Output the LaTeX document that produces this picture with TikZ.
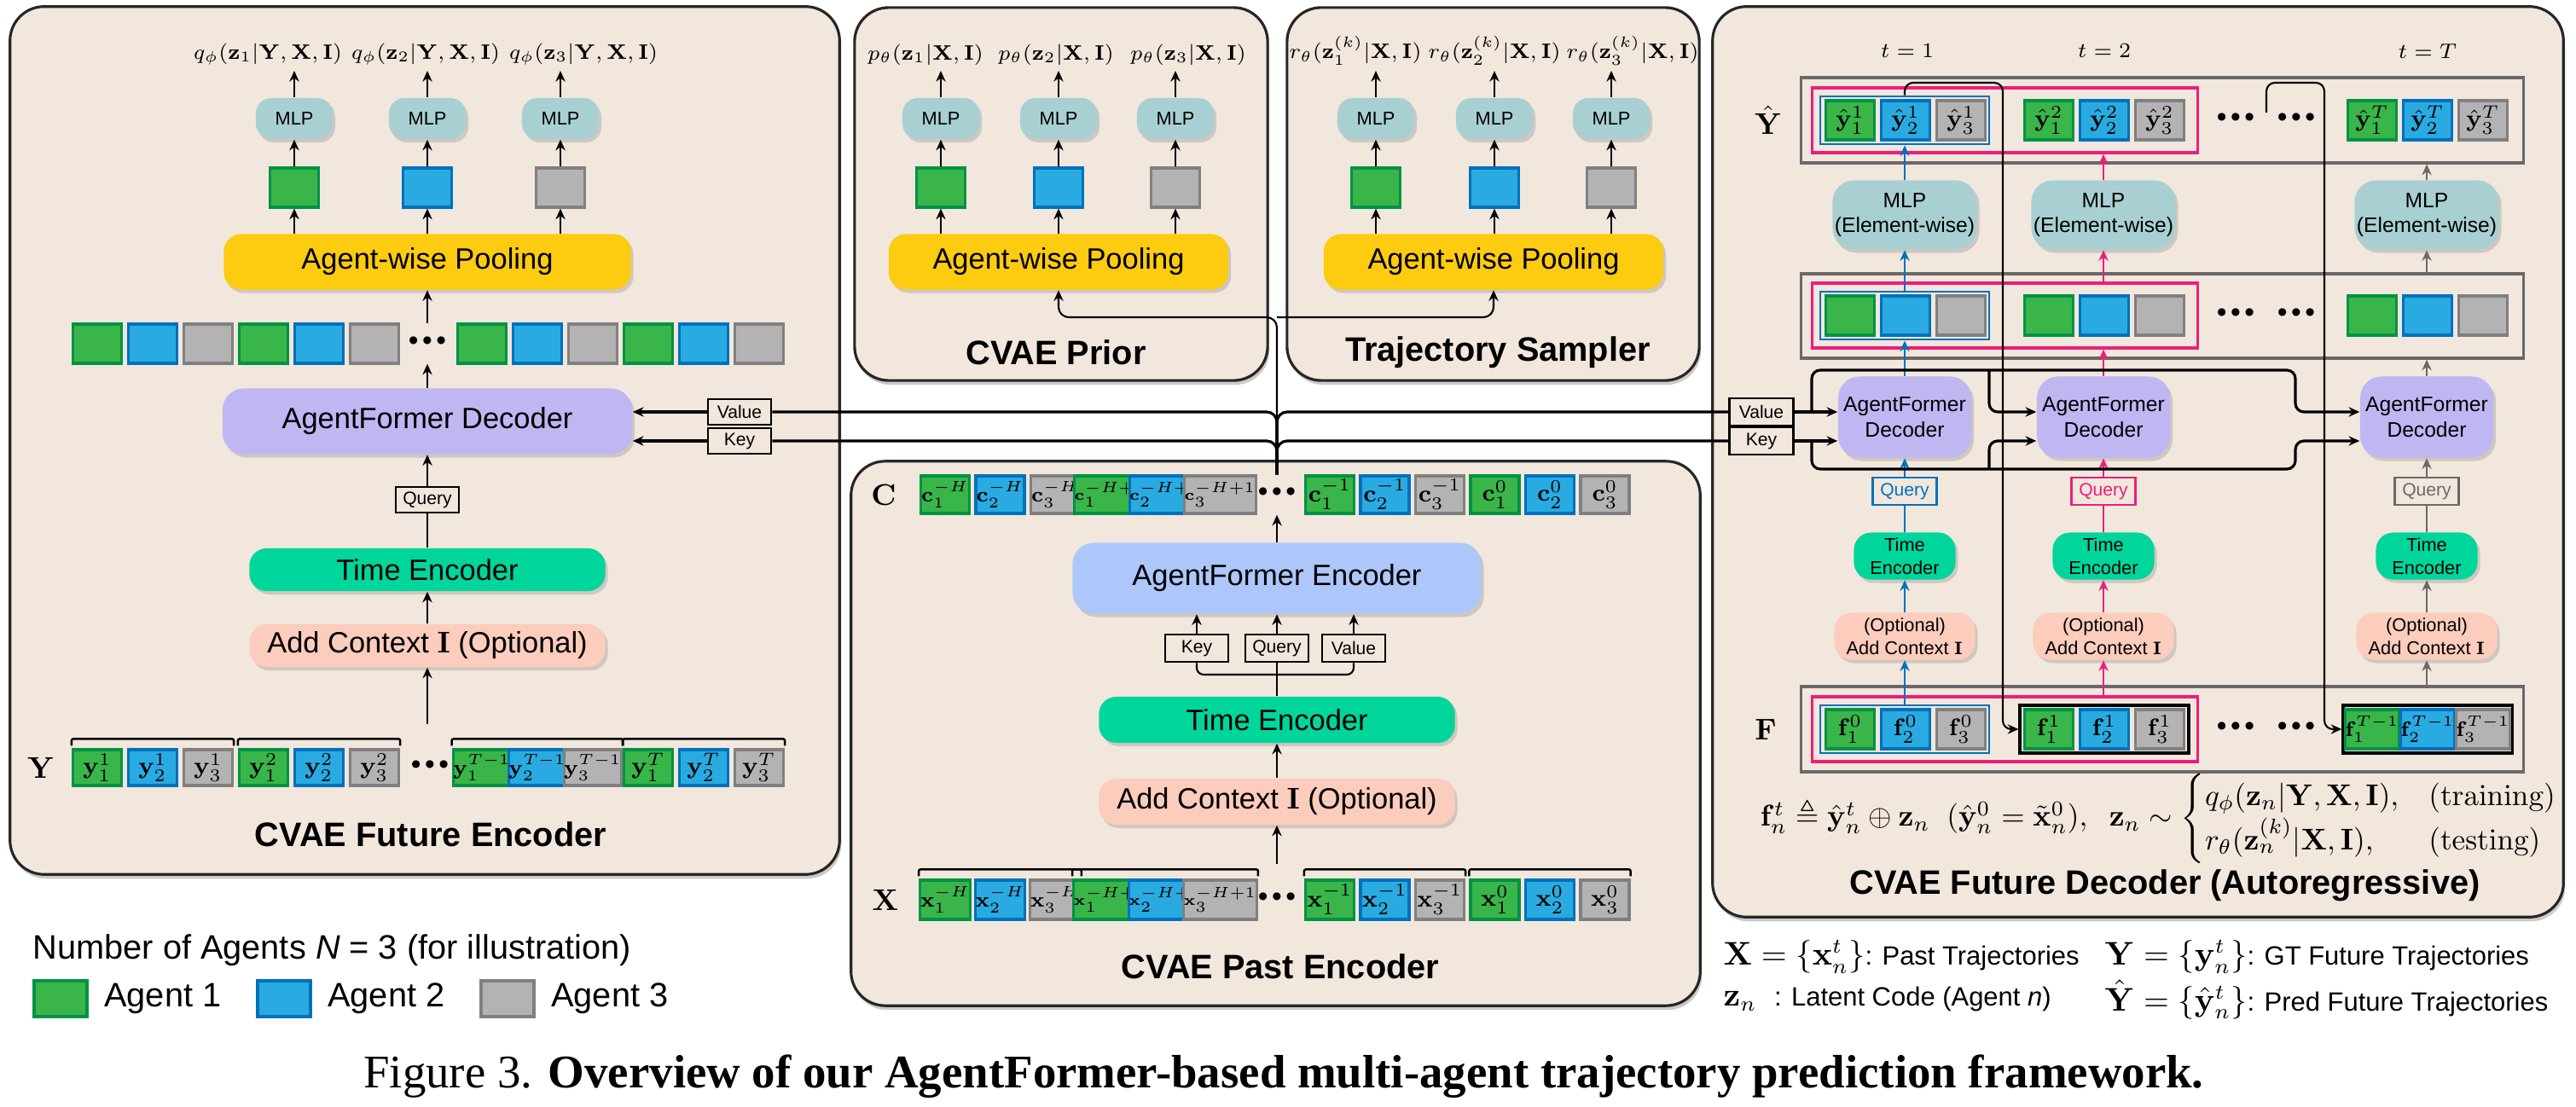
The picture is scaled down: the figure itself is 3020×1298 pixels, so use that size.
\documentclass[tikz,border=0pt]{standalone}
\usepackage{amsmath}
\usepackage{amssymb}
\usepackage[no-math]{fontspec}
\setmainfont{Liberation Sans}
\newfontfamily\capfont{Liberation Serif}
\usetikzlibrary{positioning,arrows.meta,shadows,calc}

\definecolor{paper}{RGB}{242,231,221}
\definecolor{agA}{RGB}{57,181,74}
\definecolor{agAd}{RGB}{0,146,69}
\definecolor{agB}{RGB}{41,171,226}
\definecolor{agBd}{RGB}{0,113,188}
\definecolor{agC}{RGB}{179,179,179}
\definecolor{agCd}{RGB}{128,128,128}
\definecolor{mlpc}{RGB}{168,208,210}
\definecolor{poolc}{RGB}{253,203,16}
\definecolor{decc}{RGB}{190,183,242}
\definecolor{encc}{RGB}{173,199,250}
\definecolor{timec}{RGB}{0,214,155}
\definecolor{ctxc}{RGB}{252,204,188}
\definecolor{pinkc}{RGB}{237,30,121}
\definecolor{bluec}{RGB}{0,113,188}
\definecolor{grayc}{RGB}{105,105,105}

\newcommand{\dts}{\textbullet\hspace{1.3pt}\textbullet\hspace{1.3pt}\textbullet}

\begin{document}
\begin{tikzpicture}[x=0.01cm, y=-0.01cm,
    panel/.style={rectangle, draw=black!85, line width=0.9pt, fill=paper, rounded corners=0.4cm,
      drop shadow={shadow xshift=0.02cm, shadow yshift=-0.05cm, opacity=0.35, fill=black!60}},
    blk/.style={rectangle, rounded corners=0.2cm, inner sep=0pt, align=center,
      font=\fontsize{9.8}{11.5}\selectfont,
      drop shadow={shadow xshift=0.03cm, shadow yshift=-0.04cm, opacity=0.3, fill=black!50}},
    pool/.style={blk, fill=poolc, minimum width=4.77cm, minimum height=0.65cm},
    mlp/.style={blk, fill=mlpc, rounded corners=0.18cm, minimum width=0.9cm, minimum height=0.48cm,
      font=\fontsize{6.2}{7}\selectfont},
    mlpw/.style={blk, fill=mlpc, rounded corners=0.25cm, minimum width=1.69cm, minimum height=0.81cm,
      font=\fontsize{7}{8.3}\selectfont},
    dec/.style={blk, fill=decc, rounded corners=0.25cm, minimum width=4.8cm, minimum height=0.77cm},
    decs/.style={dec, minimum width=1.56cm, minimum height=0.95cm, font=\fontsize{7}{8.5}\selectfont},
    enc/.style={blk, fill=encc, rounded corners=0.25cm, minimum width=4.79cm, minimum height=0.83cm},
    timeenc/.style={blk, fill=timec, minimum width=4.17cm, minimum height=0.5cm},
    ctx/.style={blk, fill=ctxc, minimum width=4.17cm, minimum height=0.5cm},
    times/.style={timeenc, minimum width=1.19cm, minimum height=0.55cm, font=\fontsize{6.2}{7.6}\selectfont},
    ctxs/.style={ctx, minimum width=1.65cm, minimum height=0.55cm, font=\fontsize{6.2}{7.6}\selectfont},
    tok/.style={rectangle, line width=0.9pt, minimum width=0.57cm, minimum height=0.46cm, inner sep=0pt,
      font=\fontsize{8.2}{9}\selectfont},
    ag1/.style={tok, fill=agA, draw=agAd},
    ag2/.style={tok, fill=agB, draw=agBd},
    ag3/.style={tok, fill=agC, draw=agCd},
    tag/.style={rectangle, draw=black, fill=paper, line width=0.8pt, minimum width=0.74cm,
      minimum height=0.3cm, inner sep=0pt, font=\fontsize{6}{7}\selectfont},
    grp/.style={rectangle, draw=grayc, line width=0.9pt, inner sep=0pt},
    pgrp/.style={grp, draw=pinkc},
    bgrp/.style={grp, draw=bluec, line width=0.8pt},
    kgrp/.style={grp, draw=black},
    dtsn/.style={inner sep=0pt, minimum height=0.46cm, font=\fontsize{9.5}{9.5}\selectfont},
    lab/.style={inner sep=0.06cm, font=\fontsize{7.2}{8}\selectfont},
    sym/.style={inner sep=0pt, font=\fontsize{10}{10}\selectfont},
    ttl/.style={inner sep=0pt, font=\fontsize{11.3}{13}\selectfont\bfseries},
    brk/.style={line width=0.7pt, rounded corners=0.02cm},
    arr/.style={-{Stealth[length=3.6pt,width=3.2pt]}, line width=0.6pt},
    ln/.style={line width=0.6pt},
    thk/.style={line width=0.9pt}
  ]
  \useasboundingbox (0,0) rectangle (3020,1298);

  % ---------------- panels
  \node[panel, minimum width=9.72cm, minimum height=10.17cm] (fencp) at (498,516.5) {};
  \node[panel, minimum width=4.84cm, minimum height=4.37cm] (priorp) at (1244,227.5) {};
  \node[panel, minimum width=4.83cm, minimum height=4.37cm] (sampp) at (1750.5,227.5) {};
  \node[panel, minimum width=9.95cm, minimum height=6.38cm] (pencp) at (1495.5,860) {};
  \node[panel, minimum width=9.97cm, minimum height=10.67cm] (fdecp) at (2506.5,541.5) {};

  % ---------------- CVAE future encoder
  \node[lab, anchor=south] (qa1) at (314,83) {$q_\phi(\mathbf{z}_1|\mathbf{Y},\mathbf{X},\mathbf{I})$};
  \node[lab, anchor=south] (qa2) at (499,83) {$q_\phi(\mathbf{z}_2|\mathbf{Y},\mathbf{X},\mathbf{I})$};
  \node[lab, anchor=south] (qa3) at (684,83) {$q_\phi(\mathbf{z}_3|\mathbf{Y},\mathbf{X},\mathbf{I})$};
  \node[pool] (fpool) at (501,307) {Agent-wise Pooling};
  \foreach \i/\x in {1/345,2/501,3/657}{
    \node[mlp] (fm\i) at (\x,139) {MLP};
    \node[ag\i] (fs\i) at (\x,220) {};
    \draw[arr] (fm\i.north) -- (fm\i.north |- qa\i.south);
    \draw[arr] (fs\i.north) -- (fm\i.south);
    \draw[arr] (fpool.north -| fs\i) -- (fs\i.south);
  }
  \foreach \k in {0,...,5}{
    \pgfmathtruncatemacro\a{mod(\k,3)+1}
    \node[ag\a] (fa\k) at (114+65*\k,403) {};
    \node[ag\a] (fb\k) at (565+65*\k,403) {};
  }
  \node[dtsn] (fdots) at (501,403) {\dts};
  \draw[arr] (fdots.north) -- (fpool.south);

  \node[dec] (fdec) at (501,494) {AgentFormer Decoder};
  \node[tag] (fq) at (501,586) {Query};
  \node[timeenc] (ft) at (501,668) {Time Encoder};
  \node[ctx] (fc) at (501,757) {Add Context $\mathbf{I}$ (Optional)};
  \draw[arr] (fdec.north) -- (fdots.south);
  \draw[arr] (fq.north) -- (fdec.south);
  \draw[ln] (ft.north) -- (fq.south);
  \draw[arr] (fc.north) -- (ft.south);

  \foreach \t/\bx/\sz [count=\g] in {1/114/8.2, 2/309/8.2, T-1/565/6.6, T/760/8.2}{
    \foreach \a in {1,2,3}{
      \node[ag\a, minimum height=0.42cm, font=\fontsize{\sz}{\sz}\selectfont] (y\g\a) at (\bx+65*\a-65,900) {$\mathbf{y}_{\a}^{\t}$};
    }
    \draw[brk] ($(y\g1.north west)+(0,-3)$) -- ++(0,-8) -| ($(y\g3.north east)+(0,-3)$);
  }
  \node[dtsn] (ydots) at (504,900) {\dts};
  \coordinate (yin) at (501,849);
  \draw[arr] (yin) -- (fc.south);
  \node[sym] (ylab) at (48,900) {$\mathbf{Y}$};
  \node[ttl] (ftitle) at (505,978) {CVAE Future Encoder};

  \node[tag] (valL) at (867,483) {Value};
  \node[tag] (keyL) at (867,517) {Key};
  \draw[arr, thk] (valL.west) -- (fdec.east |- valL.west);
  \draw[arr, thk] (keyL.west) -- (fdec.east |- keyL.west);

  % ---------------- CVAE prior
  \node[pool, minimum width=3.98cm] (ppool) at (1241,307) {Agent-wise Pooling};
  \foreach \i/\x/\lx in {1/1103/1085, 2/1241/1238, 3/1378/1393}{
    \node[lab, anchor=south] (pl\i) at (\lx,83) {$p_\theta(\mathbf{z}_\i|\mathbf{X},\mathbf{I})$};
    \node[mlp] (pm\i) at (\x,139) {MLP};
    \node[ag\i] (ps\i) at (\x,220) {};
    \draw[arr] (pm\i.north) -- (pm\i.north |- pl\i.south);
    \draw[arr] (ps\i.north) -- (pm\i.south);
    \draw[arr] (ppool.north -| ps\i) -- (ps\i.south);
  }
  \node[ttl] (ptitle) at (1238,413) {CVAE Prior};

  % ---------------- trajectory sampler
  \node[pool, minimum width=3.98cm] (spool) at (1751,307) {Agent-wise Pooling};
  \foreach \i/\x/\lx in {1/1613/1589, 2/1752/1752, 3/1889/1914}{
    \node[lab, anchor=south] (sl\i) at (\lx,83) {$r_\theta(\mathbf{z}_\i^{(k)}|\mathbf{X},\mathbf{I})$};
    \node[mlp] (sm\i) at (\x,139) {MLP};
    \node[ag\i] (ss\i) at (\x,220) {};
    \draw[arr] (sm\i.north) -- (sm\i.north |- sl\i.south);
    \draw[arr] (ss\i.north) -- (sm\i.south);
    \draw[arr] (spool.north -| ss\i) -- (ss\i.south);
  }
  \node[ttl] (stitle) at (1756,413) {Trajectory Sampler};

  % ---------------- CVAE past encoder
  \foreach \t/\bx/\sz [count=\g] in {-H/1108/6.6, -H+1/1301.5/4.8, -1/1559/8.2, 0/1752.5/8.2}{
    \foreach \a in {1,2,3}{
      \node[ag\a, minimum height=0.44cm, font=\fontsize{\sz}{\sz}\selectfont] (c\g\a) at (\bx+64.5*\a-64.5,580) {$\mathbf{c}_{\a}^{\t}$};
      \node[ag\a, font=\fontsize{\sz}{\sz}\selectfont] (x\g\a) at (\bx+64.5*\a-64.5,1055) {$\mathbf{x}_{\a}^{\t}$};
    }
    \draw[brk] ($(x\g1.north west)+(0,-3)$) -- ++(0,-8) -| ($(x\g3.north east)+(0,-3)$);
  }
  \node[dtsn] (cdots) at (1497,580) {\dts};
  \node[dtsn] (xdots) at (1497,1055) {\dts};
  \node[sym] (clab) at (1036,580) {$\mathbf{C}$};
  \node[sym] (xlab) at (1038,1055) {$\mathbf{X}$};

  \node[enc] (penc) at (1497,678) {AgentFormer Encoder};
  \node[tag, minimum height=0.32cm] (pk) at (1403,760) {Key};
  \node[tag, minimum height=0.32cm] (pq) at (1497,760) {Query};
  \node[tag, minimum height=0.32cm] (pv) at (1587,760) {Value};
  \node[timeenc, minimum height=0.54cm] (pt) at (1497,844) {Time Encoder};
  \node[ctx, minimum height=0.54cm] (pc) at (1497,940) {Add Context $\mathbf{I}$ (Optional)};
  \coordinate (pkv) at (1497,791);
  \coordinate (xin) at (1497,1013);
  \draw[arr] (penc.north) -- (cdots.south);
  \foreach \n in {pk,pq,pv} \draw[arr] (\n.north) -- (\n.north |- penc.south);
  \draw[ln, rounded corners=0.08cm] (pk.south) |- (pkv) -| (pv.south);
  \draw[ln] (pt.north) -- (pq.south);
  \draw[arr] (pc.north) -- (pt.south);
  \draw[arr] (xin) -- (pc.south);
  \node[ttl] (ptitle2) at (1501,1133) {CVAE Past Encoder};

  % ---------------- context fan-out
  \coordinate (cjn) at (1497,372);
  \draw[arr, rounded corners=0.12cm] (cdots.north) -- (cjn) -| (ppool.south);
  \draw[arr, rounded corners=0.12cm] (cjn) -| (spool.south);

  % ---------------- CVAE future decoder
  \node[lab] (tl1) at (2236,60) {$t=1$};
  \node[lab] (tl2) at (2467,60) {$t=2$};
  \node[lab] (tlT) at (2846,60) {$t=T$};

  \node[grp, minimum width=8.46cm, minimum height=1.0cm] (yhbox) at (2535,141) {};
  \node[pgrp, minimum width=4.51cm, minimum height=0.76cm] (yhp) at (2350.5,141) {};
  \node[bgrp, minimum width=1.98cm, minimum height=0.56cm] (yhb) at (2233,141) {};
  \node[grp, minimum width=8.46cm, minimum height=0.99cm] (mbox) at (2535,370.5) {};
  \node[pgrp, minimum width=4.51cm, minimum height=0.76cm] (mp) at (2350.5,370) {};
  \node[bgrp, minimum width=1.98cm, minimum height=0.56cm] (mb) at (2233,370) {};
  \node[grp, minimum width=8.46cm, minimum height=1.0cm] (fbox) at (2535,855) {};
  \node[pgrp, minimum width=4.51cm, minimum height=0.76cm] (fp) at (2350.5,855) {};
  \node[bgrp, minimum width=1.98cm, minimum height=0.56cm] (fbl) at (2233,855) {};
  \node[kgrp, minimum width=1.98cm, minimum height=0.56cm] (fk1) at (2467,855) {};
  \node[kgrp, minimum width=1.98cm, minimum height=0.56cm] (fk2) at (2846,855) {};

  \foreach \t/\f/\bx/\sz [count=\g] in {1/0/2169/8.2, 2/1/2402/8.2, T/T-1/2781/6.6}{
    \foreach \a in {1,2,3}{
      \node[ag\a] (yh\g\a) at (\bx+65*\a-65,141) {$\hat{\mathbf{y}}_{\a}^{\t}$};
      \node[ag\a] (mm\g\a) at (\bx+65*\a-65,370) {};
      \node[ag\a, font=\fontsize{\sz}{\sz}\selectfont] (ff\g\a) at (\bx+65*\a-65,855) {$\mathbf{f}_{\a}^{\f}$};
    }
  }
  \foreach \r/\y in {yh/141, mm/370, ff/855}{
    \node[dtsn] (\r d1) at (2621,\y) {\dts};
    \node[dtsn] (\r d2) at (2692,\y) {\dts};
  }
  \node[sym] (yhlab) at (2073,141) {$\hat{\mathbf{Y}}$};
  \node[sym] (flab) at (2070,855) {$\mathbf{F}$};

  \foreach \i/\x in {1/2233, 2/2466, T/2845}{
    \node[mlpw] (rm\i) at (\x,252) {MLP\\(Element-wise)};
    \node[decs] (rd\i) at (\x,489) {AgentFormer\\Decoder};
    \node[times] (rt\i) at (\x,652) {Time\\Encoder};
    \node[ctxs] (rc\i) at (\x,746) {(Optional)\\Add Context $\mathbf{I}$};
  }
  \node[tag, draw=bluec, text=bluec, minimum width=0.75cm, minimum height=0.32cm] (rq1) at (2233,576) {Query};
  \node[tag, draw=pinkc, text=pinkc, minimum width=0.75cm, minimum height=0.32cm] (rq2) at (2466,576) {Query};
  \node[tag, draw=grayc, text=grayc, minimum width=0.75cm, minimum height=0.32cm] (rqT) at (2845,576) {Query};

  % step t = 1
  \draw[arr, bluec] (fbl.north) -- (rc1.south);
  \draw[arr, bluec] (rc1.north) -- (rt1.south);
  \draw[ln, bluec] (rt1.north) -- (rq1.south);
  \draw[arr, bluec] (rq1.north) -- (rd1.south);
  \draw[arr, bluec] (rd1.north) -- (mb.south);
  \draw[arr, bluec] (mb.north) -- (rm1.south);
  \draw[arr, bluec] (rm1.north) -- (yhb.south);
  % step t = 2
  \draw[arr, pinkc] (fp.north -| rc2.south) -- (rc2.south);
  \draw[arr, pinkc] (rc2.north) -- (rt2.south);
  \draw[ln, pinkc] (rt2.north) -- (rq2.south);
  \draw[arr, pinkc] (rq2.north) -- (rd2.south);
  \draw[arr, pinkc] (rd2.north) -- (rd2.north |- mp.south);
  \draw[arr, pinkc] (mp.north -| rm2.south) -- (rm2.south);
  \draw[arr, pinkc] (rm2.north) -- (rm2.north |- yhp.south);
  % step t = T
  \draw[arr, grayc] (fbox.north -| rcT.south) -- (rcT.south);
  \draw[arr, grayc] (rcT.north) -- (rtT.south);
  \draw[ln, grayc] (rtT.north) -- (rqT.south);
  \draw[arr, grayc] (rqT.north) -- (rdT.south);
  \draw[arr, grayc] (rdT.north) -- (rdT.north |- mbox.south);
  \draw[arr, grayc] (mbox.north -| rmT.south) -- (rmT.south);
  \draw[arr, grayc] (rmT.north) -- (rmT.north |- yhbox.south);

  % value / key into the decoders
  \node[tag, minimum width=0.75cm, minimum height=0.32cm] (valR) at (2065,483) {Value};
  \node[tag, minimum width=0.75cm, minimum height=0.32cm] (keyR) at (2065,517) {Key};
  \draw[thk, rounded corners=0.12cm] (cdots.north) |- (valL.east);
  \draw[thk, rounded corners=0.12cm] (cdots.north) |- (keyL.east);
  \draw[thk, rounded corners=0.12cm] (cdots.north) |- (valR.west);
  \draw[thk, rounded corners=0.12cm] (cdots.north) |- (keyR.west);
  \draw[arr, thk] (valR.east) -- (rd1.west |- valR.east);
  \draw[arr, thk] (keyR.east) -- (rd1.west |- keyR.east);
  \coordinate (vs) at (2124,483);
  \coordinate (vh2) at (2332,434);
  \coordinate (vhT) at (2691,434);
  \coordinate (ks) at (2124,517);
  \coordinate (kh2) at (2332,550);
  \coordinate (khT) at (2691,550);
  \draw[arr, thk, rounded corners=0.1cm] (vs) |- (vhT) |- (rdT.west |- valR.east);
  \draw[arr, thk, rounded corners=0.1cm] (vh2) |- (rd2.west |- valR.east);
  \draw[arr, thk, rounded corners=0.1cm] (ks) |- (khT) |- (rdT.west |- keyR.east);
  \draw[arr, thk, rounded corners=0.1cm] (kh2) |- (rd2.west |- keyR.east);

  % autoregressive feedback
  \coordinate (fbA) at (2348,97);
  \coordinate (fbB0) at (2657,132);
  \coordinate (fbB) at (2725,97);
  \draw[arr, ln, rounded corners=0.1cm] (yhb.north) |- (fbA) |- (fk1.west);
  \draw[arr, ln, rounded corners=0.1cm] (fbB0) |- (fbB) |- (fk2.west);

  \node[font=\fontsize{10}{12}\selectfont, inner sep=0pt] (form) at (2532,960)
    {$\mathbf{f}_n^t \triangleq \hat{\mathbf{y}}_n^t \oplus \mathbf{z}_n\ \ (\hat{\mathbf{y}}_n^0=\tilde{\mathbf{x}}_n^0),\ \ \mathbf{z}_n\sim
      \begin{cases} q_\phi(\mathbf{z}_n|\mathbf{Y},\mathbf{X},\mathbf{I}), & \mathrm{(training)}\\
                    r_\theta(\mathbf{z}_n^{(k)}|\mathbf{X},\mathbf{I}), & \mathrm{(testing)}\end{cases}$};
  \node[ttl] (dtitle) at (2538,1038) {CVAE Future Decoder (Autoregressive)};

  % ---------------- legends
  \node[anchor=west, inner sep=0pt, font=\fontsize{11.3}{13}\selectfont] (nag) at (38,1114)
    {Number of Agents \textit{N} = 3 (for illustration)};
  \foreach \i/\x in {1/71, 2/333, 3/595}{
    \node[ag\i, minimum width=0.62cm, minimum height=0.42cm] (lg\i) at (\x,1171) {};
    \node[anchor=west, inner sep=0pt, font=\fontsize{11.3}{13}\selectfont, right=0.18cm of lg\i] (lt\i) {Agent \i};
  }
  \node[anchor=west, inner sep=0pt, font=\fontsize{10.5}{12}\selectfont] (lgx) at (2020,1122)
    {$\mathbf{X}=\{\mathbf{x}_n^t\}${\fontsize{8.8}{10}\selectfont: Past Trajectories}};
  \node[anchor=west, inner sep=0pt, font=\fontsize{10.5}{12}\selectfont] (lgy) at (2467,1122)
    {$\mathbf{Y}=\{\mathbf{y}_n^t\}${\fontsize{8.8}{10}\selectfont: GT Future Trajectories}};
  \node[anchor=west, inner sep=0pt, font=\fontsize{10.5}{12}\selectfont] (lgz) at (2020,1172)
    {$\mathbf{z}_n$\ \ {\fontsize{8.8}{10}\selectfont: Latent Code (Agent \textit{n})}};
  \node[anchor=west, inner sep=0pt, font=\fontsize{10.5}{12}\selectfont] (lgh) at (2467,1172)
    {$\hat{\mathbf{Y}}=\{\hat{\mathbf{y}}_n^t\}${\fontsize{8.8}{10}\selectfont: Pred Future Trajectories}};

  \node[font=\capfont\fontsize{15.6}{18}\selectfont, inner sep=0pt] (cap) at (1505,1262)
    {Figure 3. \textbf{Overview of our AgentFormer-based multi-agent trajectory prediction framework.}};
\end{tikzpicture}
\end{document}
